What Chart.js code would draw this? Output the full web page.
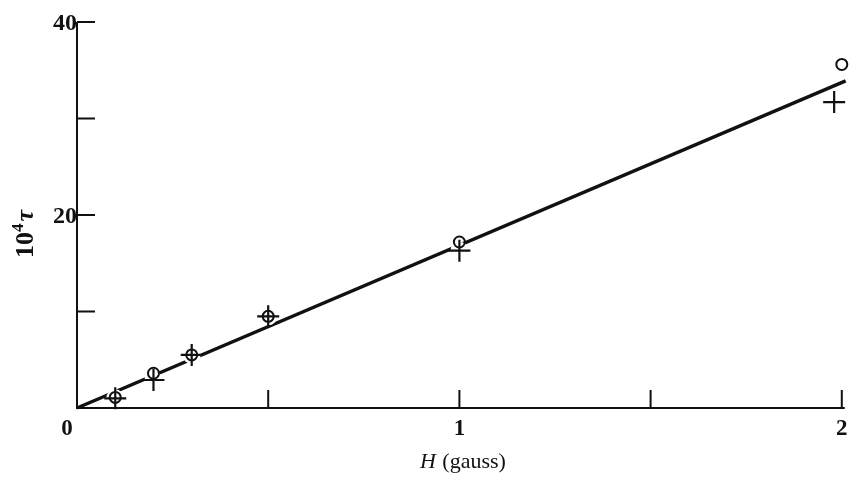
<!DOCTYPE html>
<html><head><meta charset="utf-8">
<script src="https://cdn.jsdelivr.net/npm/chart.js@4/dist/chart.umd.min.js"></script>
<style>html,body{margin:0;padding:0;background:#fff}#wrap{width:855px;height:477px}</style>
</head><body><div id="wrap"><canvas id="c" width="855" height="477"></canvas></div>
<script>
// ---- data ----
const circleH   = [0.1, 0.2, 0.3, 0.5, 1.0, 2.0];
const circleTau = [1.1, 3.6, 5.5, 9.5, 17.2, 35.6];
const crossH    = [0.1, 0.2, 0.3, 0.5, 1.0, 1.98];
const crossTau  = [1.0, 2.9, 5.5, 9.5, 16.3, 31.7];
const fitH      = [0, 2.01];
const fitTau    = [0, 33.9];
const xTickValues = [0, 0.5, 1, 1.5, 2];
const xTickLabels = ['0', '', '1', '', '2'];
const yTickValues = [0, 10, 20, 30, 40];
const yTickLabels = ['', '', '20', '', '40'];
const xTitleItalic = 'H';
const xTitleRest = ' (gauss)';
const yTitleBase = '10', yTitleSup = '4', yTitleSym = 'τ';

const toPts = (xs, ys) => xs.map((v, i) => ({x: v, y: ys[i]}));
const INK = '#111';

const paperPlugin = {
  id: 'paper',
  afterDatasetsDraw(chart) {
    const {ctx, scales: {x, y}} = chart;
    const x0 = x.getPixelForValue(0), y0 = y.getPixelForValue(0);
    ctx.save();
    ctx.strokeStyle = INK; ctx.fillStyle = INK; ctx.lineWidth = 2; ctx.lineCap = 'butt';
    // axes
    ctx.beginPath();
    ctx.moveTo(x0, y.getPixelForValue(yTickValues[yTickValues.length - 1]));
    ctx.lineTo(x0, y0);
    ctx.lineTo(x.getPixelForValue(xTickValues[xTickValues.length - 1]) + 3, y0);
    ctx.stroke();
    // inward ticks
    ctx.beginPath();
    yTickValues.forEach(v => { if (v === 0) return; const p = y.getPixelForValue(v); ctx.moveTo(x0, p); ctx.lineTo(x0 + 18, p); });
    xTickValues.forEach(v => { if (v === 0) return; const p = x.getPixelForValue(v); ctx.moveTo(p, y0); ctx.lineTo(p, y0 - 18); });
    ctx.stroke();
    // tick labels
    ctx.font = 'bold 24px "Liberation Serif"';
    ctx.textAlign = 'right'; ctx.textBaseline = 'middle';
    yTickValues.forEach((v, i) => { if (yTickLabels[i]) ctx.fillText(yTickLabels[i], x0, y.getPixelForValue(v) + 2); });
    ctx.font = 'bold 23px "Liberation Serif"';
    ctx.textAlign = 'center'; ctx.textBaseline = 'top';
    xTickValues.forEach((v, i) => {
      if (!xTickLabels[i]) return;
      const shift = v === 0 ? -10 : 0;
      ctx.fillText(xTickLabels[i], x.getPixelForValue(v) + shift, y0 + 10);
    });
    // x title
    ctx.textBaseline = 'alphabetic'; ctx.textAlign = 'left';
    ctx.font = 'italic 22px "Liberation Serif"';
    const wI = ctx.measureText(xTitleItalic).width;
    ctx.font = '22px "Liberation Serif"';
    const wR = ctx.measureText(xTitleRest).width;
    const cx = (x.left + x.right) / 2 + 3;
    let sx = cx - (wI + wR) / 2;
    ctx.font = 'italic 22px "Liberation Serif"';
    ctx.fillText(xTitleItalic, sx, 468);
    ctx.font = '22px "Liberation Serif"';
    ctx.fillText(xTitleRest, sx + wI + 1, 468);
    // y title (rotated)
    ctx.translate(33, 234);
    ctx.rotate(-Math.PI / 2);
    ctx.font = '600 26px "Liberation Serif"';
    const wb = ctx.measureText(yTitleBase).width;
    ctx.font = '600 17px "Liberation Serif"';
    const ws = ctx.measureText(yTitleSup).width;
    ctx.font = 'italic 600 26px "Liberation Serif"';
    const wt = ctx.measureText(yTitleSym).width;
    let tx = -(wb + ws + wt + 2) / 2;
    ctx.font = '600 26px "Liberation Serif"';
    ctx.fillText(yTitleBase, tx, 0); tx += wb;
    ctx.font = '600 17px "Liberation Serif"';
    ctx.fillText(yTitleSup, tx, -10); tx += ws + 2;
    ctx.font = 'italic 600 26px "Liberation Serif"';
    ctx.fillText(yTitleSym, tx, 0);
    ctx.restore();
  }
};

new Chart(document.getElementById('c'), {
  type: 'scatter',
  data: {
    datasets: [
      { label: 'circles', data: toPts(circleH, circleTau), pointStyle: 'circle', pointRadius: 5.5, pointBorderWidth: 2,
        pointBorderColor: INK, pointBackgroundColor: 'rgba(0,0,0,0)', showLine: false, clip: false, order: 0 },
      { label: 'crosses', data: toPts(crossH, crossTau), pointStyle: 'cross', pointRadius: 11, pointBorderWidth: 2.2,
        pointBorderColor: INK, showLine: false, clip: false, order: 1 },
      { label: 'gaps', data: toPts(crossH, crossTau), pointStyle: 'circle', pointRadius: 9, pointBorderWidth: 0,
        pointBackgroundColor: '#fff', pointBorderColor: '#fff', showLine: false, clip: false, order: 2 },
      { label: 'fit', data: toPts(fitH, fitTau), showLine: true, borderColor: INK, borderWidth: 3.5, pointRadius: 0,
        fill: false, clip: false, order: 3 }
    ]
  },
  options: {
    responsive: false, animation: false, devicePixelRatio: 1,
    layout: { padding: { left: 0, top: 22, right: 8, bottom: 0 } },
    plugins: { legend: { display: false }, tooltip: { enabled: false } },
    scales: {
      x: { type: 'linear', min: 0, max: 2, grid: { display: false }, border: { display: false },
           ticks: { display: false }, afterFit: s => { s.height = 69; } },
      y: { type: 'linear', min: 0, max: 40, grid: { display: false }, border: { display: false },
           ticks: { display: false }, afterFit: s => { s.width = 77; } }
    }
  },
  plugins: [paperPlugin]
});
</script>
</body></html>
